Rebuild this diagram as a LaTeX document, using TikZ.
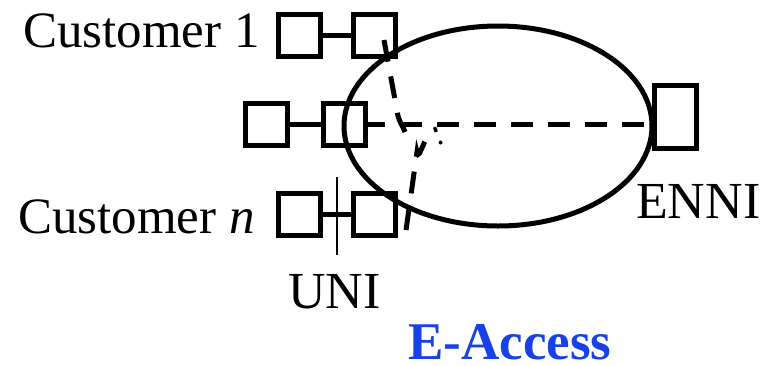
\documentclass[tikz,border=0pt]{standalone}
\usepackage{fontspec}
\setmainfont{Liberation Serif}
\begin{document}
\begin{tikzpicture}[x=1pt,y=-1pt,
  port/.style={draw,line width=5pt,minimum width=42pt,minimum height=42pt,inner sep=0pt},
  conn/.style={line width=5pt},
  dconn/.style={line width=5pt,dash pattern=on 22pt off 15pt},
  lbl/.style={font=\fontsize{52}{56}\selectfont,inner sep=0pt,anchor=base west,text depth=0pt}]
\useasboundingbox (0,0) rectangle (764,365);
% ellipse
\draw[line width=5pt] (498,126) ellipse [x radius=154, y radius=100];
% ports
\node[port] (c1a) at (299,35) {};
\node[port] (c1b) at (374,35) {};
\node[port] (ma) at (266,124) {};
\node[port] (mb) at (344,124) {};
\node[port] (cna) at (299,214.5) {};
\node[port] (cnb) at (374,214.5) {};
\node[port,minimum width=42pt,minimum height=63pt] (enni) at (675,116.5) {};
% solid links
\draw[conn] (c1a.east) -- (c1b.west);
\draw[conn] (ma.east) -- (mb.west);
\draw[conn] (cna.east) -- (cnb.west);
% UNI marker
\coordinate (ut) at (337,177);
\coordinate (ub) at (337,255);
\draw[line width=1.5pt] (ut) -- (ub);
% dashed EVCs
\coordinate (d1s) at (384,40);
\coordinate (d1m) at (398,116);
\coordinate (d1e) at (405,132);
\draw[dconn,dash phase=0pt] (d1s) -- (d1m) to[out=-75,in=110] (d1e);
\coordinate (d2s) at (355,124);
\draw[dconn,dash phase=-8pt] (d2s) -- (d2s -| enni.west);
\coordinate (d3s) at (406,230);
\coordinate (d3m) at (417,152);
\coordinate (d3e) at (437,129);
\draw[dconn] (d3s) -- (d3m) to[out=-80,in=180] (d3e);
\fill (440.5,142.5) circle[radius=2pt];
% labels
\node[lbl,font=\fontsize{51}{55}\selectfont] (t1) at (23,47) {Customer 1};
\node[lbl,font=\fontsize{51}{55}\selectfont] (tn) at (18,233) {Customer \textit{n}};
\node[lbl] (tuni) at (288,308) {UNI};
\node[lbl] (tenni) at (636,218) {ENNI};
\definecolor{eblue}{RGB}{25,65,232}
\node[lbl,font=\fontsize{53}{56}\selectfont\bfseries,text=eblue] (tea) at (408,359) {E-Access};
\end{tikzpicture}
\end{document}
